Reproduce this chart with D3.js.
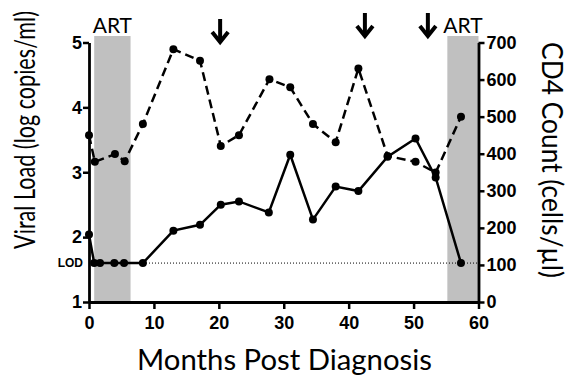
<!DOCTYPE html>
<html>
<head>
<meta charset="utf-8">
<script src="https://cdn.jsdelivr.net/npm/d3@7"></script>
<style>
  body { margin: 0; background: #fff; }
  svg { display: block; }
</style>
</head>
<body>
<div id="chart"></div>
<script>
// viral load (solid, left axis)
const vlMonths = [0, 0.8, 1.7, 3.9, 5.4, 8.3, 13.0, 17.1, 20.3, 23.1, 27.7, 31.0, 34.5, 38.0, 41.5, 46.0, 50.3, 53.4, 57.3];
const vlLog = [2.04, 1.6, 1.6, 1.6, 1.6, 1.6, 2.10, 2.19, 2.50, 2.55, 2.38, 3.27, 2.27, 2.78, 2.71, 3.24, 3.52, 2.92, 1.6];

// CD4 count (dashed, right axis)
const cd4Months = [0, 0.9, 4.0, 5.5, 8.3, 13.0, 17.1, 20.3, 23.1, 27.8, 31.0, 34.5, 38.0, 41.5, 46.0, 50.3, 53.4, 57.3];
const cd4Count = [450, 378, 399, 380, 480, 682, 651, 421, 450, 601, 579, 480, 431, 630, 394, 378, 349, 500];

const artPeriods = [[0.8, 6.4], [55.2, 60]];
const arrowMonths = [20.2, 42.5, 52.2];
const lodLog = 1.6;

const xTicks = [0, 10, 20, 30, 40, 50, 60];
const yLeftTicks = [1, 2, 3, 4, 5];
const yRightTicks = [0, 100, 200, 300, 400, 500, 600, 700];

const W = 575, H = 380;
const margin = { top: 42.5, right: 96.5, bottom: 78, left: 89 };
const width = W - margin.left - margin.right;
const height = H - margin.top - margin.bottom;

const svg = d3.select("#chart").append("svg").attr("width", W).attr("height", H);
const g = svg.append("g").attr("transform", `translate(${margin.left},${margin.top})`);

const x = d3.scaleLinear().domain([0, 60]).range([0, width]);
const yL = d3.scaleLinear().domain([1, 5]).range([height, 0]);
const yR = d3.scaleLinear().domain([0, 700]).range([height, 0]);

// ART shading
g.selectAll(".art")
  .data(artPeriods)
  .join("rect")
  .attr("class", "art")
  .attr("x", d => x(d[0]))
  .attr("width", d => x(d[1]) - x(d[0]))
  .attr("y", yL(5.1))
  .attr("height", height - yL(5.1))
  .attr("fill", "#c0c0c0");

g.selectAll(".art-label")
  .data(artPeriods)
  .join("text")
  .attr("class", "art-label")
  .attr("x", d => (x(d[0]) + x(d[1])) / 2)
  .attr("y", -10)
  .attr("text-anchor", "middle")
  .attr("font-family", "Lato, 'Open Sans', sans-serif")
  .attr("font-size", "21px")
  .attr("fill", "#000")
  .text("ART");

// LOD line
g.append("line")
  .attr("x1", 0).attr("x2", width)
  .attr("y1", yL(lodLog)).attr("y2", yL(lodLog))
  .attr("stroke", "#000")
  .attr("stroke-width", 1)
  .attr("stroke-dasharray", "1,2");

g.append("text")
  .attr("x", -6)
  .attr("y", yL(lodLog))
  .attr("dy", "0.36em")
  .attr("text-anchor", "end")
  .attr("font-family", "'Liberation Sans', Arial, sans-serif")
  .attr("font-weight", "bold")
  .attr("font-size", "12px")
  .text("LOD");

// lines
const vl = vlMonths.map((m, i) => ({ m, v: vlLog[i] }));
const cd4 = cd4Months.map((m, i) => ({ m, v: cd4Count[i] }));

g.append("path")
  .datum(cd4)
  .attr("fill", "none")
  .attr("stroke", "#000")
  .attr("stroke-width", 2.5)
  .attr("stroke-dasharray", "9,5")
  .attr("d", d3.line().x(d => x(d.m)).y(d => yR(d.v)));

g.append("path")
  .datum(vl)
  .attr("fill", "none")
  .attr("stroke", "#000")
  .attr("stroke-width", 2.5)
  .attr("d", d3.line().x(d => x(d.m)).y(d => yL(d.v)));

g.selectAll(".cd4pt")
  .data(cd4)
  .join("circle")
  .attr("class", "cd4pt")
  .attr("cx", d => x(d.m))
  .attr("cy", d => yR(d.v))
  .attr("r", 4)
  .attr("fill", "#000");

g.selectAll(".vlpt")
  .data(vl)
  .join("circle")
  .attr("class", "vlpt")
  .attr("cx", d => x(d.m))
  .attr("cy", d => yL(d.v))
  .attr("r", 4)
  .attr("fill", "#000");

// arrows
const arrowTip = [44, 38, 38];
const arrows = svg.selectAll(".arrow")
  .data(arrowMonths)
  .join("g")
  .attr("class", "arrow")
  .attr("transform", (d, i) => `translate(${margin.left + x(d)},${arrowTip[i]})`);
arrows.append("line")
  .attr("x1", 0).attr("x2", 0).attr("y1", -25).attr("y2", -2)
  .attr("stroke", "#000").attr("stroke-width", 4);
arrows.append("path")
  .attr("d", "M-8,-12L0,-2L8,-12")
  .attr("fill", "none")
  .attr("stroke", "#000")
  .attr("stroke-width", 4)
  .attr("stroke-linejoin", "miter");

// axes
function styleAxis(sel) {
  sel.selectAll("path.domain").attr("stroke-width", 2.8);
  sel.selectAll(".tick line").attr("stroke-width", 2.5);
  sel.selectAll(".tick text")
    .attr("font-family", "'Liberation Sans', Arial, sans-serif")
    .attr("font-weight", "bold")
    .attr("font-size", "18px")
    .attr("fill", "#000");
}

g.append("g")
  .attr("transform", `translate(0,${height})`)
  .call(d3.axisBottom(x).tickValues(xTicks).tickSize(7).tickSizeOuter(0).tickPadding(7))
  .call(styleAxis);

g.append("g")
  .call(d3.axisLeft(yL).tickValues(yLeftTicks).tickFormat(d3.format("d")).tickSize(6).tickSizeOuter(0).tickPadding(1))
  .call(styleAxis);

g.append("g")
  .attr("transform", `translate(${width},0)`)
  .call(d3.axisRight(yR).tickValues(yRightTicks).tickSize(6).tickSizeOuter(0).tickPadding(2))
  .call(styleAxis);

// titles: narrow the glyphs to the reference's width with a scale, not textLength
function title(label, cx, cy, angle, targetLen) {
  const t = svg.append("text")
    .attr("text-anchor", "middle")
    .attr("font-family", "Lato, 'Open Sans', sans-serif")
    .attr("font-size", "28px")
    .attr("fill", "#000")
    .text(label);
  const sx = targetLen / t.node().getComputedTextLength();
  t.attr("transform", `translate(${cx},${cy}) rotate(${angle}) scale(${sx},1)`);
}

title("Viral Load (log copies/ml)", 35, 130, -90, 238);
title("CD4 Count (cells/µl)", 542, 160, 90, 236);
title("Months Post Diagnosis", 284.5, 370, 0, 295);
</script>
</body>
</html>
